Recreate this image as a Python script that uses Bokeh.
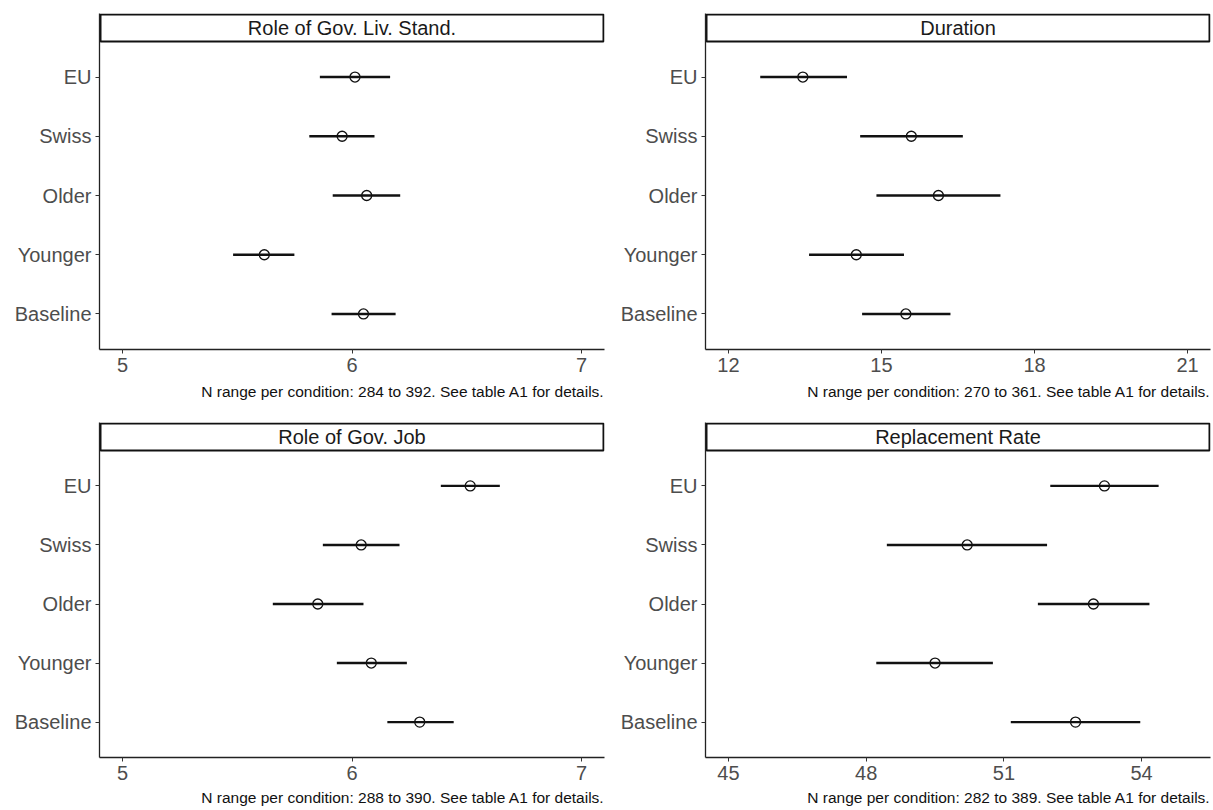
from bokeh.plotting import figure
from bokeh.layouts import column, row
from bokeh.models import FixedTicker, Range1d, Title
from bokeh.core.properties import value
from bokeh.embed import file_html
from bokeh.resources import INLINE

conditions = ["Baseline", "Younger", "Older", "Swiss", "EU"]

liv_est = [6.050, 5.618, 6.064, 5.957, 6.013]
liv_lo = [5.911, 5.482, 5.916, 5.814, 5.860]
liv_hi = [6.190, 5.749, 6.210, 6.098, 6.166]

dur_est = [15.478, 14.506, 16.116, 15.585, 13.458]
dur_lo = [14.620, 13.580, 14.901, 14.582, 12.623]
dur_hi = [16.352, 15.441, 17.332, 16.595, 14.324]

job_est = [6.295, 6.084, 5.851, 6.040, 6.515]
job_lo = [6.154, 5.934, 5.655, 5.873, 6.387]
job_hi = [6.443, 6.239, 6.050, 6.207, 6.644]

rr_est = [52.56, 49.50, 52.95, 50.20, 53.19]
rr_lo = [51.15, 48.22, 51.74, 48.45, 52.01]
rr_hi = [53.97, 50.76, 54.17, 51.94, 54.37]

titles = ["Role of Gov. Liv. Stand.", "Duration", "Role of Gov. Job", "Replacement Rate"]
limits = [(5, 7), (12, 21), (5, 7), (45, 55)]
xticks = [[5, 6, 7], [12, 15, 18, 21], [5, 6, 7], [45, 48, 51, 54]]
captions = [
    "N range per condition: 284 to 392. See table A1 for details.",
    "N range per condition: 270 to 361. See table A1 for details.",
    "N range per condition: 288 to 390. See table A1 for details.",
    "N range per condition: 282 to 389. See table A1 for details.",
]

FONT = "Liberation Sans"


def make_panel(title, est, lo, hi, lim, ticks, caption, width, height, top, bottom, right, cap_gap):
    left = 99
    strip_px = 28
    frame_w = width - left - right
    frame_h = height - top - bottom
    data_px = frame_h - strip_px
    span = lim[1] - lim[0]
    x0, x1 = lim[0] - 0.05 * span, lim[1] + 0.05 * span
    n = len(conditions)
    ys = list(range(1, n + 1))
    y0, ytop = 0.4, n + 0.6
    y1 = ytop + (ytop - y0) * strip_px / data_px

    p = figure(width=width, height=height, output_backend="svg", toolbar_location=None,
               x_range=Range1d(x0, x1), y_range=Range1d(y0, y1),
               min_border_left=left, min_border_right=right,
               min_border_top=top, min_border_bottom=bottom)
    p.outline_line_color = None
    p.xgrid.grid_line_color = None
    p.ygrid.grid_line_color = None
    p.background_fill_color = "white"
    p.border_fill_color = "white"

    # strip
    dx = (x1 - x0) / frame_w
    dy = (y1 - y0) / frame_h
    p.quad(left=[x0 + dx], right=[x1 - dx], bottom=[ytop], top=[y1 - dy],
           fill_color="white", line_color="#111111", line_width=2)
    p.text(x=[(x0 + x1) / 2], y=[(ytop + y1) / 2], text=[title],
           text_font=value(FONT), text_font_size="20px", text_align="center",
           text_baseline="middle", text_color="#1a1a1a")

    # error bars and points
    p.segment(x0=lo, y0=ys, x1=hi, y1=ys, line_color="#111111", line_width=2.4)
    p.scatter(x=est, y=ys, size=10, marker="circle", fill_color=None,
              line_color="#111111", line_width=1.3)

    # axes
    p.xaxis.ticker = FixedTicker(ticks=ticks)
    p.yaxis.ticker = FixedTicker(ticks=ys)
    p.yaxis.major_label_overrides = {y: c for y, c in zip(ys, conditions)}
    for ax in (p.xaxis[0], p.yaxis[0]):
        ax.axis_line_color = "#222222"
        ax.axis_line_width = 1.3
        ax.major_tick_line_color = "#333333"
        ax.major_tick_out = 4
        ax.major_tick_in = 0
        ax.minor_tick_line_color = None
        ax.major_label_text_font = FONT
        ax.major_label_text_font_size = "20px"
        ax.major_label_text_color = "#4D4D4D"
        ax.major_label_standoff = 4

    cap = Title(text=caption, align="right", text_font=FONT, text_font_size="15.5px",
                text_font_style="normal", text_color="#111111", standoff=cap_gap)
    p.add_layout(cap, "below")
    return p


data = [(liv_est, liv_lo, liv_hi), (dur_est, dur_lo, dur_hi),
        (job_est, job_lo, job_hi), (rr_est, rr_lo, rr_hi)]
dims = [
    dict(width=606, height=407, top=13, bottom=58, right=2, cap_gap=13),
    dict(width=607, height=407, top=13, bottom=58, right=3, cap_gap=13),
    dict(width=606, height=403, top=15, bottom=53, right=2, cap_gap=8),
    dict(width=607, height=403, top=15, bottom=53, right=3, cap_gap=8),
]
panels = []
for i in range(4):
    e, l, h = data[i]
    panels.append(make_panel(titles[i], e, l, h, limits[i], xticks[i], captions[i], **dims[i]))

layout = column(row(panels[0], panels[1]), row(panels[2], panels[3]))
open("out.html", "w").write(file_html(layout, INLINE))
